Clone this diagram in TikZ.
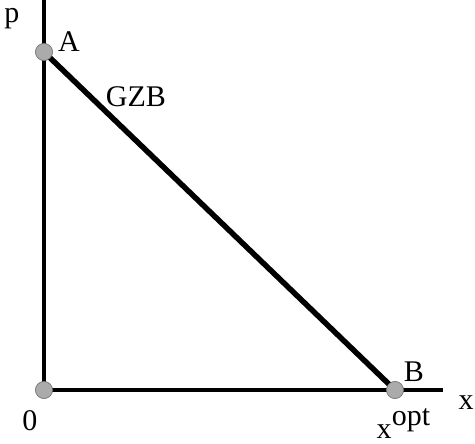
\documentclass[tikz,border=0pt]{standalone}
\usepackage{fontspec}
\setmainfont{Liberation Serif}
\usetikzlibrary{positioning}
\definecolor{Dot}{HTML}{ABABAB}
\definecolor{DotRim}{HTML}{7A7A7A}

\begin{document}
\begin{tikzpicture}[x=1pt,y=-1pt,
    axis/.style={line width=4pt,black},
    dot/.style={circle,fill=Dot,draw=DotRim,line width=0.6pt,minimum size=17pt,inner sep=0pt},
    lbl/.style={font=\fontsize{30}{32}\selectfont,inner sep=0pt}
  ]
    \useasboundingbox (0,0) rectangle (475,444);
    % axes
    \coordinate (top) at (44,0);
    \coordinate (right) at (443,390);
    \node[dot] (origin) at (44,390) {};
    \node[dot] (A) at (44,52) {};
    \node[dot] (B) at (395,390) {};
    \draw[axis] (top) -- (origin.center) -- (right);
    \draw[line width=5.5pt] (A.center) -- (B.center);
    \node[dot] at (A) {};
    \node[dot] at (B) {};
    \node[dot] at (origin) {};
    % labels
    \node[lbl] (plbl) at (12,19) {p};
    \node[lbl] (Albl) at (69,42) {A};
    \node[lbl] (GZB) at (136,97) {GZB};
    \node[lbl] (Blbl) at (414,372) {B};
    \node[lbl] (zero) at (30,421) {0};
    \node[lbl,anchor=base] (xopt) at (384,438) {x};
    \node[lbl,anchor=base west] at (xopt.base east) {\raisebox{13pt}{opt}};
    \node[lbl] (xlbl) at (466,403) {x};
\end{tikzpicture}
\end{document}
